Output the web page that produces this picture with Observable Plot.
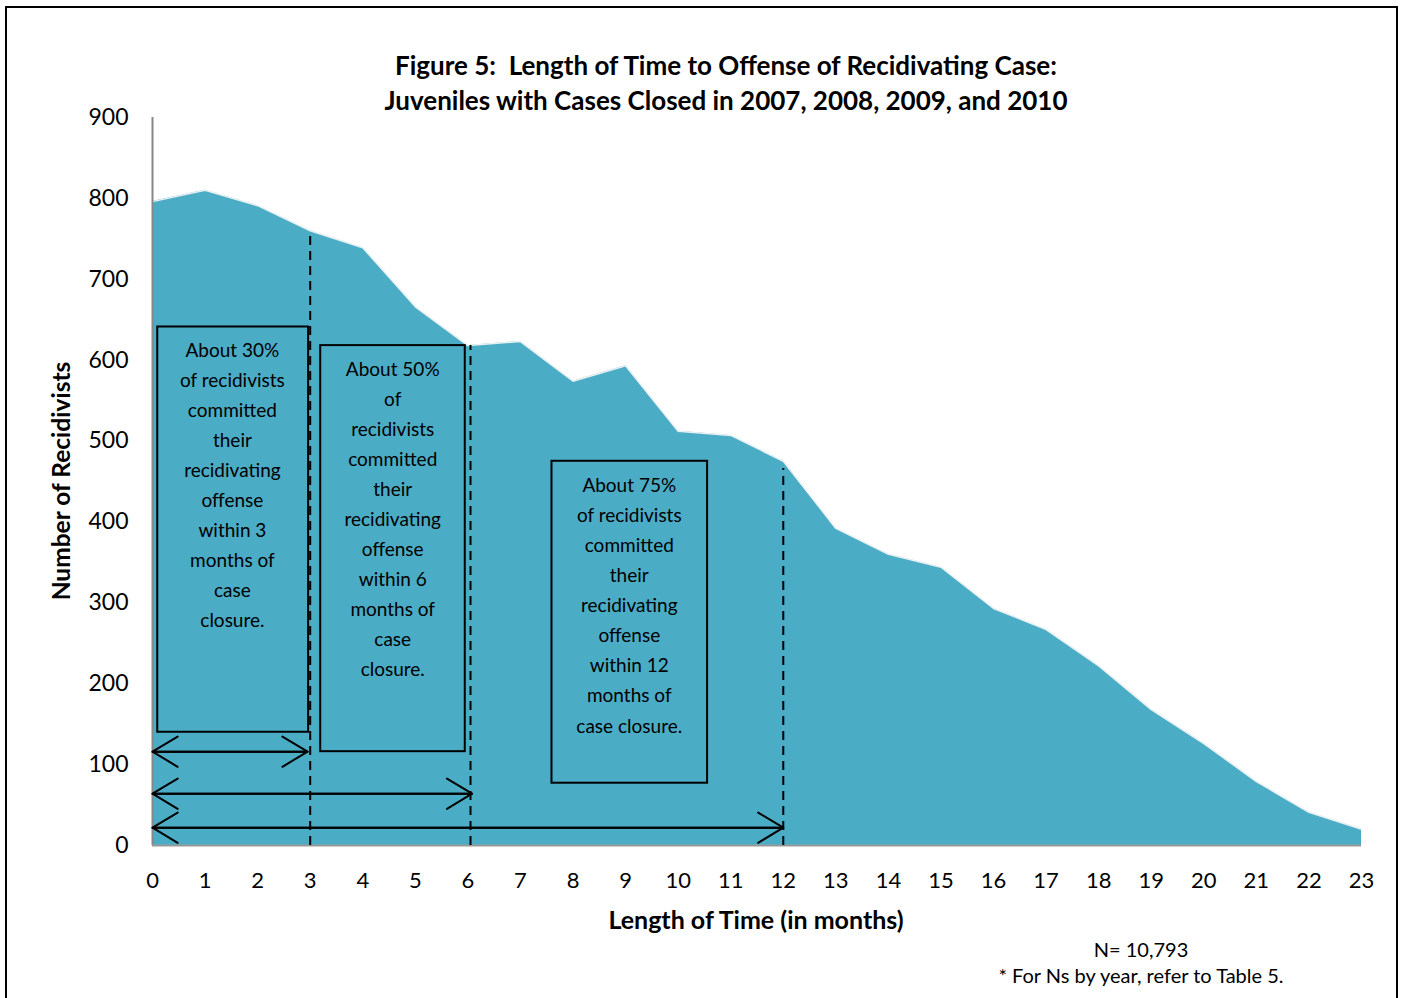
<!DOCTYPE html>
<html>
<head>
<meta charset="utf-8">
<script src="https://cdn.jsdelivr.net/npm/d3@7"></script>
<script src="https://cdn.jsdelivr.net/npm/@observablehq/plot@0.6"></script>
<style>
  html, body { margin: 0; padding: 0; background: #fff; overflow: hidden; }
  body { width: 1405px; height: 998px; position: relative; font-family: "Lato", "Open Sans", sans-serif; }
  #frame { position: absolute; left: 5px; top: 6px; width: 1393px; height: 1010px; border: 2px solid #000; box-sizing: border-box; }
  #chart { position: absolute; left: 0; top: 0; }
  .title { position: absolute; left: 226px; width: 1000px; top: 48px; text-align: center; font-weight: bold; font-size: 26px; line-height: 35px; color: #000; }
  .xlabel { position: absolute; left: 456px; width: 600px; top: 904px; text-align: center; font-weight: bold; font-size: 25px; line-height: 30px; }
  .ylabel { position: absolute; left: 60px; top: 481px; transform: translate(-50%, -50%) rotate(-90deg); white-space: nowrap; font-weight: bold; font-size: 24.5px; }
  .note { position: absolute; left: 941px; width: 400px; top: 936px; text-align: center; font-size: 20px; line-height: 26px; }
</style>
</head>
<body>
<div id="chart"></div>
<div id="frame"></div>
<div class="title">Figure 5:&nbsp; Length of Time to Offense of Recidivating Case:<br>Juveniles with Cases Closed in 2007, 2008, 2009, and 2010</div>
<div class="ylabel">Number of Recidivists</div>
<div class="xlabel">Length of Time (in months)</div>
<div class="note">N= 10,793<br>* For Ns by year, refer to Table 5.</div>
<script>
// Data
const months = [0,1,2,3,4,5,6,7,8,9,10,11,12,13,14,15,16,17,18,19,20,21,22,23];
const recidivists = [796,810,791,760,739,666,618,623,574,593,512,507,475,392,360,344,293,267,222,168,126,79,41,20];
const yTicks = [0,100,200,300,400,500,600,700,800,900];

// Annotations (data coordinates)
const boxX1 = [0.1, 3.2, 7.6];
const boxX2 = [2.97, 5.95, 10.56];
const boxTop = [641, 618, 475];
const boxBottom = [140, 116, 77];
const boxTextX = [1.52, 4.57, 9.07];
const boxTextY = [449, 407, 300];
const boxTexts = [
  "About 30%\nof recidivists\ncommitted\ntheir\nrecidivating\noffense\nwithin 3\nmonths of\ncase\nclosure.",
  "About 50%\nof\nrecidivists\ncommitted\ntheir\nrecidivating\noffense\nwithin 6\nmonths of\ncase\nclosure.",
  "About 75%\nof recidivists\ncommitted\ntheir\nrecidivating\noffense\nwithin 12\nmonths of\ncase closure."
];
const dashX = [3, 6.05, 12];
const dashTop = [754, 618, 466];
const arrowEnd = [2.95, 6.08, 12];
const arrowY = [116, 64, 22];

const data = months.map((m, i) => ({month: m, value: recidivists[i]}));
const boxes = boxX1.map((x1, i) => ({x1, x2: boxX2[i], y1: boxBottom[i], y2: boxTop[i], tx: boxTextX[i], ty: boxTextY[i], text: boxTexts[i]}));
const dashes = dashX.map((x, i) => ({x, top: dashTop[i]}));
const arrows = arrowEnd.map((x, i) => ({x0: 0, x1: x, y: arrowY[i]}));

const chart = Plot.plot({
  width: 1405,
  height: 998,
  marginLeft: 152,
  marginRight: 44,
  marginTop: 117,
  marginBottom: 153,
  style: {fontFamily: "Lato, 'Open Sans', sans-serif", fontSize: "22px", color: "#000", background: "transparent"},
  x: {domain: [0, 23], ticks: months, tickFormat: d => String(d), tickSize: 0, tickPadding: 24, label: null},
  y: {domain: [0, 900], ticks: yTicks, tickSize: 0, tickPadding: 24, label: null},
  marks: [
    Plot.areaY(data, {x: "month", y: "value", fill: "#4BACC6"}),
    Plot.line(data, {x: "month", y: "value", stroke: "#e8f0f2", strokeWidth: 1.5}),
    Plot.ruleX([0], {y1: 0, y2: 900, stroke: "#888", strokeWidth: 2}),
    Plot.ruleY([0], {x1: 0, x2: 23, stroke: "#999", strokeWidth: 2}),
    Plot.ruleX(dashes, {x: "x", y1: 0, y2: "top", stroke: "#000", strokeWidth: 2, strokeDasharray: "9,6"}),
    Plot.rect(boxes, {x1: "x1", x2: "x2", y1: "y1", y2: "y2", stroke: "#000", strokeWidth: 2, fill: "none"}),
    Plot.text(boxes, {x: "tx", y: "ty", text: "text", fontSize: 19, lineHeight: 1.58, fill: "#000", lineAnchor: "middle"}),
    Plot.arrow(arrows, {x1: "x0", x2: "x1", y1: "y", y2: "y", stroke: "#000", strokeWidth: 2, headLength: 22, headAngle: 62}),
    Plot.arrow(arrows, {x1: "x1", x2: "x0", y1: "y", y2: "y", stroke: "#000", strokeWidth: 2, headLength: 22, headAngle: 62}),
    Plot.axisX({ticks: months, tickSize: 0, tickPadding: 27, label: null, fontSize: 22}),
    Plot.axisY({ticks: yTicks, tickSize: 0, tickPadding: 24, label: null, fontSize: 23})
  ]
});
document.getElementById("chart").appendChild(chart);
</script>
</body>
</html>
